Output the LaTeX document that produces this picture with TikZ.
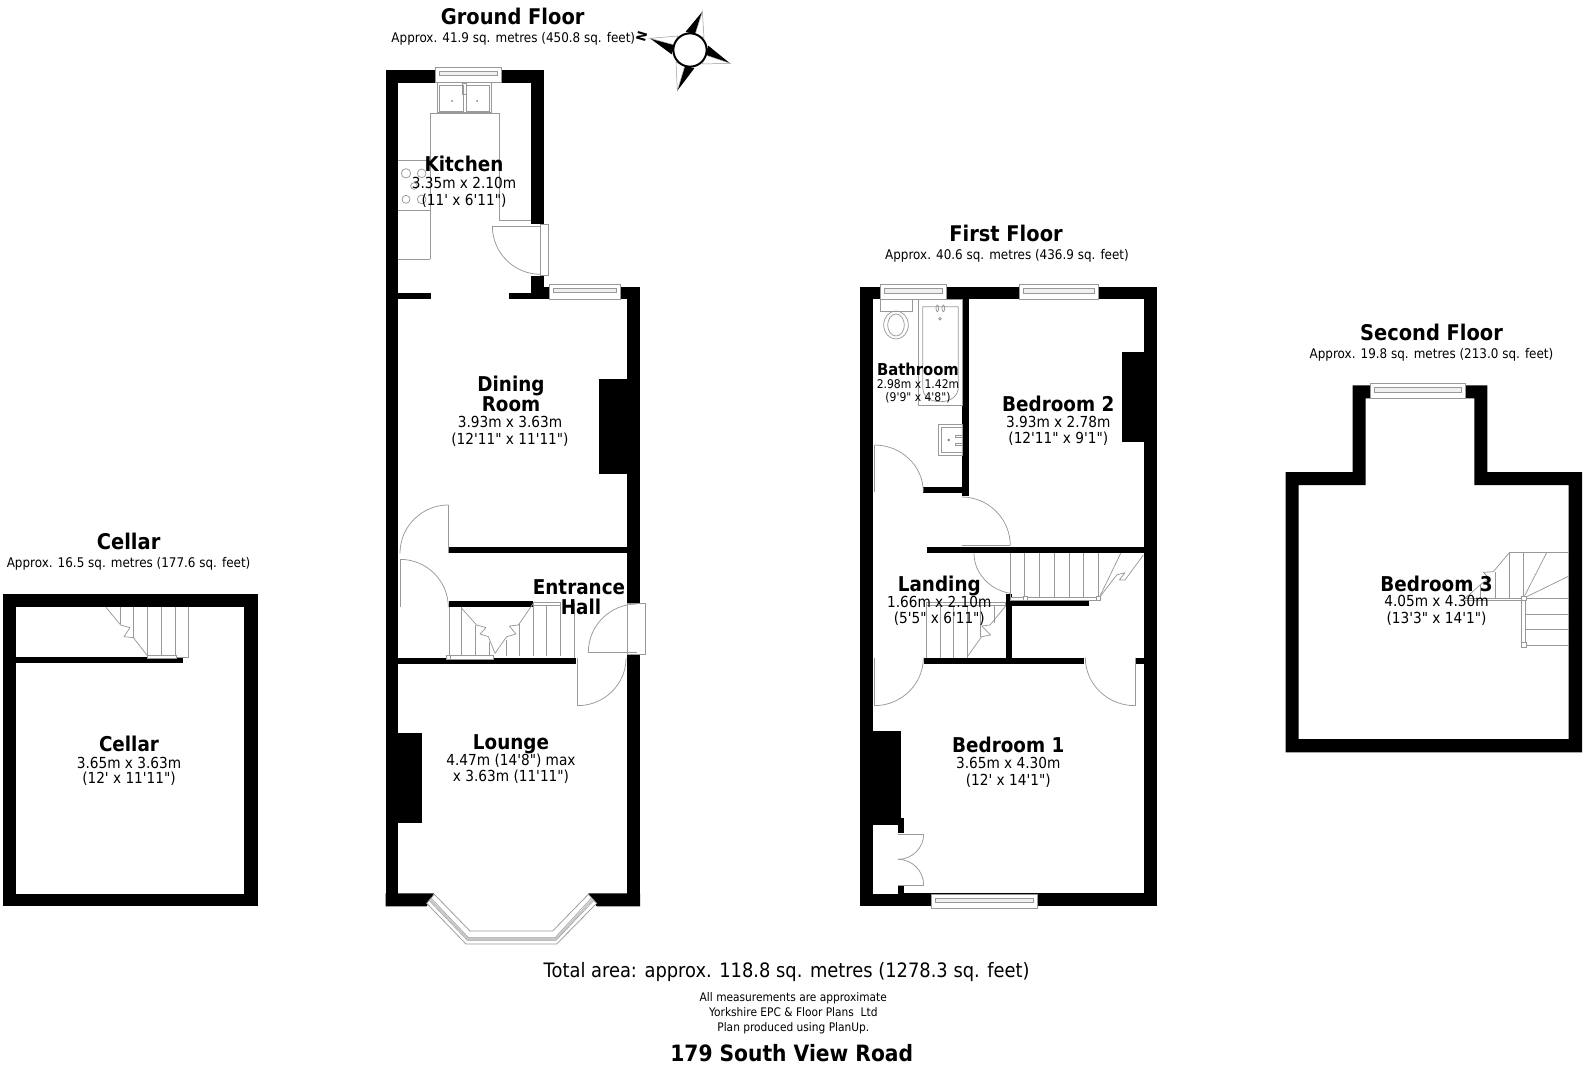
\documentclass[tikz,border=0pt]{standalone}
\usepackage{fontspec}
\newfontfamily\pf[FakeStretch=0.9]{DejaVu Sans}
\newcommand\fs[1]{\fontsize{#1}{#1}\selectfont}
\newcommand\qarc[6]{\draw[fix] (#3,#4) .. controls ({#3+.5523*(#5-#1)},{#4+.5523*(#6-#2)}) and ({#5+.5523*(#3-#1)},{#6+.5523*(#4-#2)}) .. (#5,#6);}
\newcommand\win[4]{\draw[fix,fill=white] (#1,#2) rectangle (#3,#4);
 \draw[fix,line width=.6pt,fill=gray!12] ({#1+4},{#2+4}) rectangle ({#3-4},{#2+8.5});}
\newcommand\wall[4]{\fill[black] (#1,#2) rectangle (#3,#4);}
\tikzset{
 fix/.style={draw=gray!80,line width=0.75pt},
 ttl/.style={font=\pf\bfseries\fs{21.6},inner sep=0pt,anchor=base,yshift=-7.8pt},
 sub/.style={font=\pf\fs{13.3},inner sep=0pt,anchor=base,yshift=-4.8pt},
 rt/.style={font=\pf\bfseries\fs{20.4},inner sep=0pt,anchor=base,yshift=-7.4pt},
 rd/.style={font=\pf\fs{15.2},inner sep=0pt,anchor=base,yshift=-5.5pt},
 rts/.style={font=\pf\bfseries\fs{16.4},inner sep=0pt,anchor=base,yshift=-6pt},
 rds/.style={font=\pf\fs{12},inner sep=0pt,anchor=base,yshift=-4.4pt},
 note/.style={font=\pf\fs{11.8},inner sep=0pt,anchor=base,yshift=-4.3pt},
}
\begin{document}
\begin{tikzpicture}[x=1pt,y=-1pt]
\useasboundingbox (0,0) rectangle (1584,1065);
% ---------- GROUND FLOOR (full px)
\wall{385.7}{69.7}{398.3}{906.3}
\wall{385.7}{69.7}{543.7}{82.7}
\wall{531}{69.7}{543.7}{224}
\wall{531}{275.7}{543.7}{299.3}
\wall{531}{287}{640}{299.3}
\wall{627}{287}{640}{603.3}
\wall{627}{654}{640}{906.3}
\wall{398}{293.3}{431}{299.3}
\wall{509.3}{293.3}{531}{299.3}
\wall{599}{379}{627}{474}
\wall{398}{732.5}{422.3}{823.3}
\wall{449}{546.7}{627}{553.3}
\wall{449}{601}{533}{607.3}
\wall{398}{657.7}{576}{664}
\fill[black] (385.7,893.3) -- (434,893.3) -- (426.7,906.3) -- (385.7,906.3) -- cycle;
\fill[black] (588.3,893.3) -- (640,893.3) -- (640,906.3) -- (596.7,906.3) -- cycle;
\win{435.7}{67}{501.7}{82.7}
\win{549}{284}{620.3}{299.3}
% kitchen fittings, zoom coords
\begin{scope}[shift={(370,0)},x=.33333pt,y=-.33333pt]
 \draw[fix] (203,248) rectangle (363,338);
 \draw[fix] (208,256) rectangle (280,335);
 \draw[fix] (289,256) rectangle (358,335);
 \fill[gray] (246,303) circle (3);
 \fill[gray] (321,303) circle (3);
 \draw[fix] (278,250) rectangle (288,283);
 \draw[fix] (180,778) -- (180,340) -- (388,340) -- (388,662) -- (483,662);
 \draw[fix] (85,482) -- (180,482);
 \draw[fix] (85,632) -- (180,632);
 \draw[fix] (85,778) -- (180,778);
 \draw[fix] (108,520) circle (14);
 \draw[fix] (155,520) circle (13);
 \draw[fix] (132,558) circle (10);
 \draw[fix] (108,598) circle (12);
 \draw[fix] (155,598) circle (13);
 \draw[fix,fill=white] (512,673) rectangle (536,827);
 \draw[fix] (367,678) -- (512,678);
 \qarc{512}{678}{367}{678}{512}{823}
 % compass
 \fill[black] (997,35) -- (975,104) -- (947,95) -- cycle;
 \draw[fix,line width=.5pt,fill=white] (997,35) -- (975,104) -- (1002,113) -- cycle;
 \fill[black] (1080,190) -- (1006,165) -- (1015,137) -- cycle;
 \draw[fix,line width=.5pt,fill=white] (1080,190) -- (1006,165) -- (997,192) -- cycle;
 \fill[black] (922,272) -- (945,196) -- (973,205) -- cycle;
 \draw[fix,line width=.5pt,fill=white] (922,272) -- (945,196) -- (918,187) -- cycle;
 \fill[black] (840,115) -- (914,135) -- (905,163) -- cycle;
 \draw[fix,line width=.5pt,fill=white] (840,115) -- (914,135) -- (923,108) -- cycle;
 \draw[black,fill=white,line width=2pt] (960,150) circle (50);
\end{scope}
\node[font=\pf\bfseries\fs{13},inner sep=0pt,rotate=74] (north) at (641.7,36) {N};
% hall, zoom coords
\begin{scope}[shift={(380,490)},x=.33333pt,y=-.33333pt]
 \draw[fix,fill=white] (741,340) rectangle (796,492);
 \draw[fix] (625,487) -- (770,487);
 \qarc{770}{487}{625}{487}{770}{342}
 \draw[fix] (592,505) -- (592,647);
 \qarc{592}{505}{592}{647}{738}{505}
 \draw[fix] (205,45) -- (205,190);
 \qarc{205}{190}{205}{45}{60}{190}
 \draw[fix] (60,208) -- (60,352);
 \qarc{60}{352}{60}{208}{205}{352}
 \draw[fix] (207,352) -- (207,500);
 \draw[fix] (245,352) -- (245,497);
 \draw[fix] (287,405) -- (287,497);
 \draw[fix] (327,455) -- (327,497);
 \draw[fix] (379,450) -- (379,497);
 \draw[fix] (419,400) -- (419,497);
 \draw[fix] (460,345) -- (460,497);
 \draw[fix] (500,345) -- (500,497);
 \draw[fix] (541,345) -- (541,497);
 \draw[fix] (583,338) -- (583,503);
 \draw[fix,line join=bevel] (245,355) -- (290,405) -- (318,413) -- (300,432) -- (325,440) -- (345,490);
 \draw[fix,line join=bevel] (460,340) -- (415,405) -- (388,408) -- (408,432) -- (380,440) -- (345,490);
 \draw[fix,fill=white] (200,497) rectangle (340,507);
 \draw[fix,fill=white] (460,337) rectangle (540,347);
 \draw[fix,fill=white] (198,496) rectangle (210,508);
\end{scope}
% bay window
\begin{scope}[shift={(380,860)},x=.33333pt,y=-.33333pt]
 \draw[fix,fill=white] (140,130) -- (258,252) -- (530,252) -- (650,130) -- (625,103) -- (518,213) -- (270,213) -- (163,103) -- cycle;
 \draw[fix,line width=1.8pt,draw=gray!45] (150,118) -- (264,237) -- (527,237) -- (638,118);
 \draw[fix,line width=.5pt] (147,121) -- (262,241) -- (528,241) -- (642,121);
 \draw[fix,line width=.5pt] (153,114) -- (266,233) -- (525,233) -- (634,114);
\end{scope}
% ---------- CELLAR
\wall{2.7}{594.3}{15.7}{906.3}
\wall{2.7}{594.3}{258}{607.3}
\wall{244.3}{594.3}{258}{906.3}
\wall{2.7}{894}{258}{906.3}
\wall{15.7}{657.3}{182.7}{663.3}
\begin{scope}[shift={(0,585)},x=.33333pt,y=-.33333pt]
 \draw[fix] (360,67) -- (360,118);
 \draw[fix] (401,67) -- (401,160);
 \foreach \xx in {442,484,525,566} {\draw[fix] (\xx,67) -- (\xx,217);}
 \draw[fix,line join=bevel] (318,67) -- (362,120) -- (390,128) -- (372,155) -- (400,158) -- (442,212);
 \draw[fix] (566,217) -- (530,217);
 \draw[fix,fill=white] (442,210) rectangle (530,221);
\end{scope}
% ---------- FIRST FLOOR
\wall{860}{286.7}{873}{906.3}
\wall{860}{286.7}{1156.7}{299.3}
\wall{1143.7}{286.7}{1156.7}{906.3}
\wall{860}{893.3}{1156.7}{906.3}
\wall{962.3}{299}{968.7}{496}
\wall{923.3}{486.7}{968.7}{493.3}
\wall{1121.7}{352.3}{1143.7}{442.3}
\wall{926.7}{546.7}{1143.7}{553.3}
\wall{1005.7}{594.3}{1012}{663.3}
\wall{1005.7}{600}{1089.3}{606}
\wall{924}{657.7}{1084.3}{664}
\wall{1135.3}{657.7}{1143.7}{664}
\win{880.3}{284.3}{946.7}{299.3}
\win{1019}{284.3}{1098.7}{299.3}
\win{931}{894}{1037}{908.3}
\begin{scope}[shift={(850,280)},x=.33333pt,y=-.33333pt]
 \draw[fix] (90,58) rectangle (187,93);
 \draw[fix] (138,135) ellipse (37 and 42);
 \draw[fix] (138,135) ellipse (25 and 33);
 \draw[fix] (205,58) rectangle (337,377);
 \draw[fix] (218,80) -- (325,80) -- (325,320) .. controls (325,350) and (300,365) .. (271,365) .. controls (240,365) and (218,350) .. (218,320) -- cycle;
 \draw[fix] (262,85) ellipse (4 and 10);
 \draw[fix] (280,85) ellipse (4 and 10);
 \draw[fix] (270,116) circle (4);
 \draw[fix] (266,433) rectangle (337,527);
 \draw[fix] (337,442) -- (275,442) -- (275,518) -- (337,518);
 \fill[gray] (296,480) circle (4);
 \draw[fix] (315,467) rectangle (337,472);
 \draw[fix] (315,491) rectangle (337,496);
 \draw[fix] (73,495) -- (73,636);
 \qarc{73}{636}{73}{495}{220}{636}
\end{scope}
\draw[fix] (961.7,545.7) -- (1010.3,545.7);
\qarc{961.7}{545.7}{961.7}{497}{1010.3}{545.7}
\begin{scope}[shift={(850,500)},x=.33333pt,y=-.33333pt]
 \draw[fix] (372,160) .. controls (372,220) and (420,270) .. (481,280);
 \foreach \xx in {481,524,568,613,657,701,745} {\draw[fix] (\xx,160) -- (\xx,292);}
 \draw[fix,fill=white] (481,292) rectangle (745,301);
 \draw[fix,fill=white] (519,290) rectangle (531,302);
 \draw[fix,fill=white] (739,290) rectangle (751,302);
 \draw[fix] (750,288) -- (812,160);
 \draw[fix,line join=bevel] (750,290) -- (800,225) -- (825,218) -- (808,240) -- (825,240) -- (880,165);
 \draw[fix] (229,316) -- (229,473);
 \draw[fix] (270,316) -- (270,473);
 \draw[fix] (311,316) -- (311,473);
 \draw[fix] (352,316) -- (352,473);
 \draw[fix] (392,316) -- (392,410);
 \draw[fix] (433,316) -- (433,370);
 \draw[fix,fill=white] (229,308) rectangle (467,316);
 \draw[fix,line join=bevel] (467,318) -- (420,375) -- (395,378) -- (422,405) -- (395,410) -- (352,470);
 \draw[fix] (73,473) -- (73,617);
 \qarc{73}{473}{73}{617}{220}{473}
 \draw[fix] (855,473) -- (855,617);
 \qarc{855}{473}{855}{617}{706}{473}
\end{scope}
\begin{scope}[shift={(850,720)},x=.33333pt,y=-.33333pt]
 \fill[black] (60,33) rectangle (154,316);
 \fill[black] (144,295) rectangle (163,338);
 \fill[black] (144,497) rectangle (163,525);
 \fill[white] (69,316) rectangle (144,521);
 \draw[fix] (144,342) -- (221,342);
 \qarc{144}{342}{221}{342}{144}{418}
 \draw[fix] (144,495) -- (221,495);
 \qarc{144}{495}{221}{495}{144}{418}
\end{scope}
% ---------- SECOND FLOOR
\fill[black,even odd rule]
 (1352.7,385.3) -- (1487.3,385.3) -- (1487.3,472) -- (1582,472) -- (1582,752.3) -- (1285.7,752.3) -- (1285.7,472) -- (1352.7,472) -- cycle
 (1365.7,398.3) -- (1474.3,398.3) -- (1474.3,485) -- (1568.7,485) -- (1568.7,739) -- (1298.7,739) -- (1298.7,485) -- (1365.7,485) -- cycle;
\win{1370}{383.3}{1465.3}{398.3}
\begin{scope}[shift={(1440,530)},x=.33333pt,y=-.33333pt]
 \draw[fix] (208,68) -- (387,68);
 \draw[fix] (208,68) -- (208,205);
 \draw[fix] (250,68) -- (250,205);
 \draw[fix] (165,125) -- (165,205);
 \draw[fix] (120,165) -- (120,205);
 \draw[fix] (250,205) -- (320,68);
 \draw[fix] (250,205) -- (387,138);
 \draw[fix] (255,205) -- (387,205);
 \draw[fix] (255,252) -- (387,252);
 \draw[fix] (255,298) -- (387,298);
 \draw[fix] (255,345) -- (387,345);
 \draw[fix] (75,206) -- (250,206);
 \draw[fix] (75,211) -- (250,211);
 \draw[fix] (245,205) rectangle (257,345);
 \draw[fix,fill=white] (244,199) rectangle (258,212);
 \draw[fix,fill=white] (244,338) rectangle (258,351);
 \draw[fix,line join=bevel] (208,68) -- (160,125) -- (130,127) -- (148,145) -- (120,165) -- (75,205);
\end{scope}
% ---------- TEXT
\node[ttl] (tg) at (512.7,17) {Ground Floor};
\node[sub] (sg) at (513.3,37.7) {Approx. 41.9 sq. metres (450.8 sq. feet)};
\node[ttl] (tf) at (1006,233.4) {First Floor};
\node[sub] (sf) at (1007,254.6) {Approx. 40.6 sq. metres (436.9 sq. feet)};
\node[ttl] (ts) at (1431.5,332.4) {Second Floor};
\node[sub] (ss) at (1431.5,353.6) {Approx. 19.8 sq. metres (213.0 sq. feet)};
\node[ttl] (tc) at (128.6,541.5) {Cellar};
\node[sub] (sc) at (128.6,563) {Approx. 16.5 sq. metres (177.6 sq. feet)};
\node[rt] (k1) at (464,164) {Kitchen};
\node[rd] (k2) at (464,183) {3.35m x 2.10m};
\node[rd] (k3) at (464,200) {(11' x 6'11")};
\node[rt] (d1) at (511,384) {Dining};
\node[rt] (d2) at (511,404) {Room};
\node[rd] (d3) at (510,422) {3.93m x 3.63m};
\node[rd] (d4) at (510,438.5) {(12'11" x 11'11")};
\node[rt] (e1) at (579,586.7) {Entrance};
\node[rt] (e2) at (581,606.7) {Hall};
\node[rt] (l1) at (511,742.5) {Lounge};
\node[rd] (l2) at (511,759.7) {4.47m (14'8") max};
\node[rd] (l3) at (511,776) {x 3.63m (11'11")};
\node[rt] (c1) at (129,744.5) {Cellar};
\node[rd] (c2) at (129,762.7) {3.65m x 3.63m};
\node[rd] (c3) at (129,778) {(12' x 11'11")};
\node[rts] (b1) at (918,369.3) {Bathroom};
\node[rds] (b2) at (918,384) {2.98m x 1.42m};
\node[rds] (b3) at (918,396.7) {(9'9" x 4'8")};
\node[rt] (bb1) at (1058.3,404) {Bedroom 2};
\node[rd] (bb2) at (1058.3,421.7) {3.93m x 2.78m};
\node[rd] (bb3) at (1058.3,437.7) {(12'11" x 9'1")};
\node[rt] (la1) at (939.3,584.3) {Landing};
\node[rd] (la2) at (939.3,602.3) {1.66m x 2.10m};
\node[rd] (la3) at (939.3,618.3) {(5'5" x 6'11")};
\node[rt] (ba1) at (1008.3,745) {Bedroom 1};
\node[rd] (ba2) at (1008.3,763.3) {3.65m x 4.30m};
\node[rd] (ba3) at (1008.3,780) {(12' x 14'1")};
\node[rt] (bc1) at (1436.5,584) {Bedroom 3};
\node[rd] (bc2) at (1436.5,601) {4.05m x 4.30m};
\node[rd] (bc3) at (1436.5,618) {(13'3" x 14'1")};
\node[font=\pf\fs{19.85},inner sep=0pt,anchor=base,yshift=-7pt] (tot) at (786.7,970.7) {Total area: approx. 118.8 sq. metres (1278.3 sq. feet)};
\node[note] (n1) at (793.3,997.3) {All measurements are approximate};
\node[note] (n2) at (793.3,1012) {Yorkshire EPC \& Floor Plans\ \ Ltd};
\node[note] (n3) at (793.3,1026.7) {Plan produced using PlanUp.};
\node[font=\pf\bfseries\fs{22.5},inner sep=0pt,anchor=base,yshift=-8pt] (addr) at (791.7,1053) {179 South View Road};
\end{tikzpicture}
\end{document}
